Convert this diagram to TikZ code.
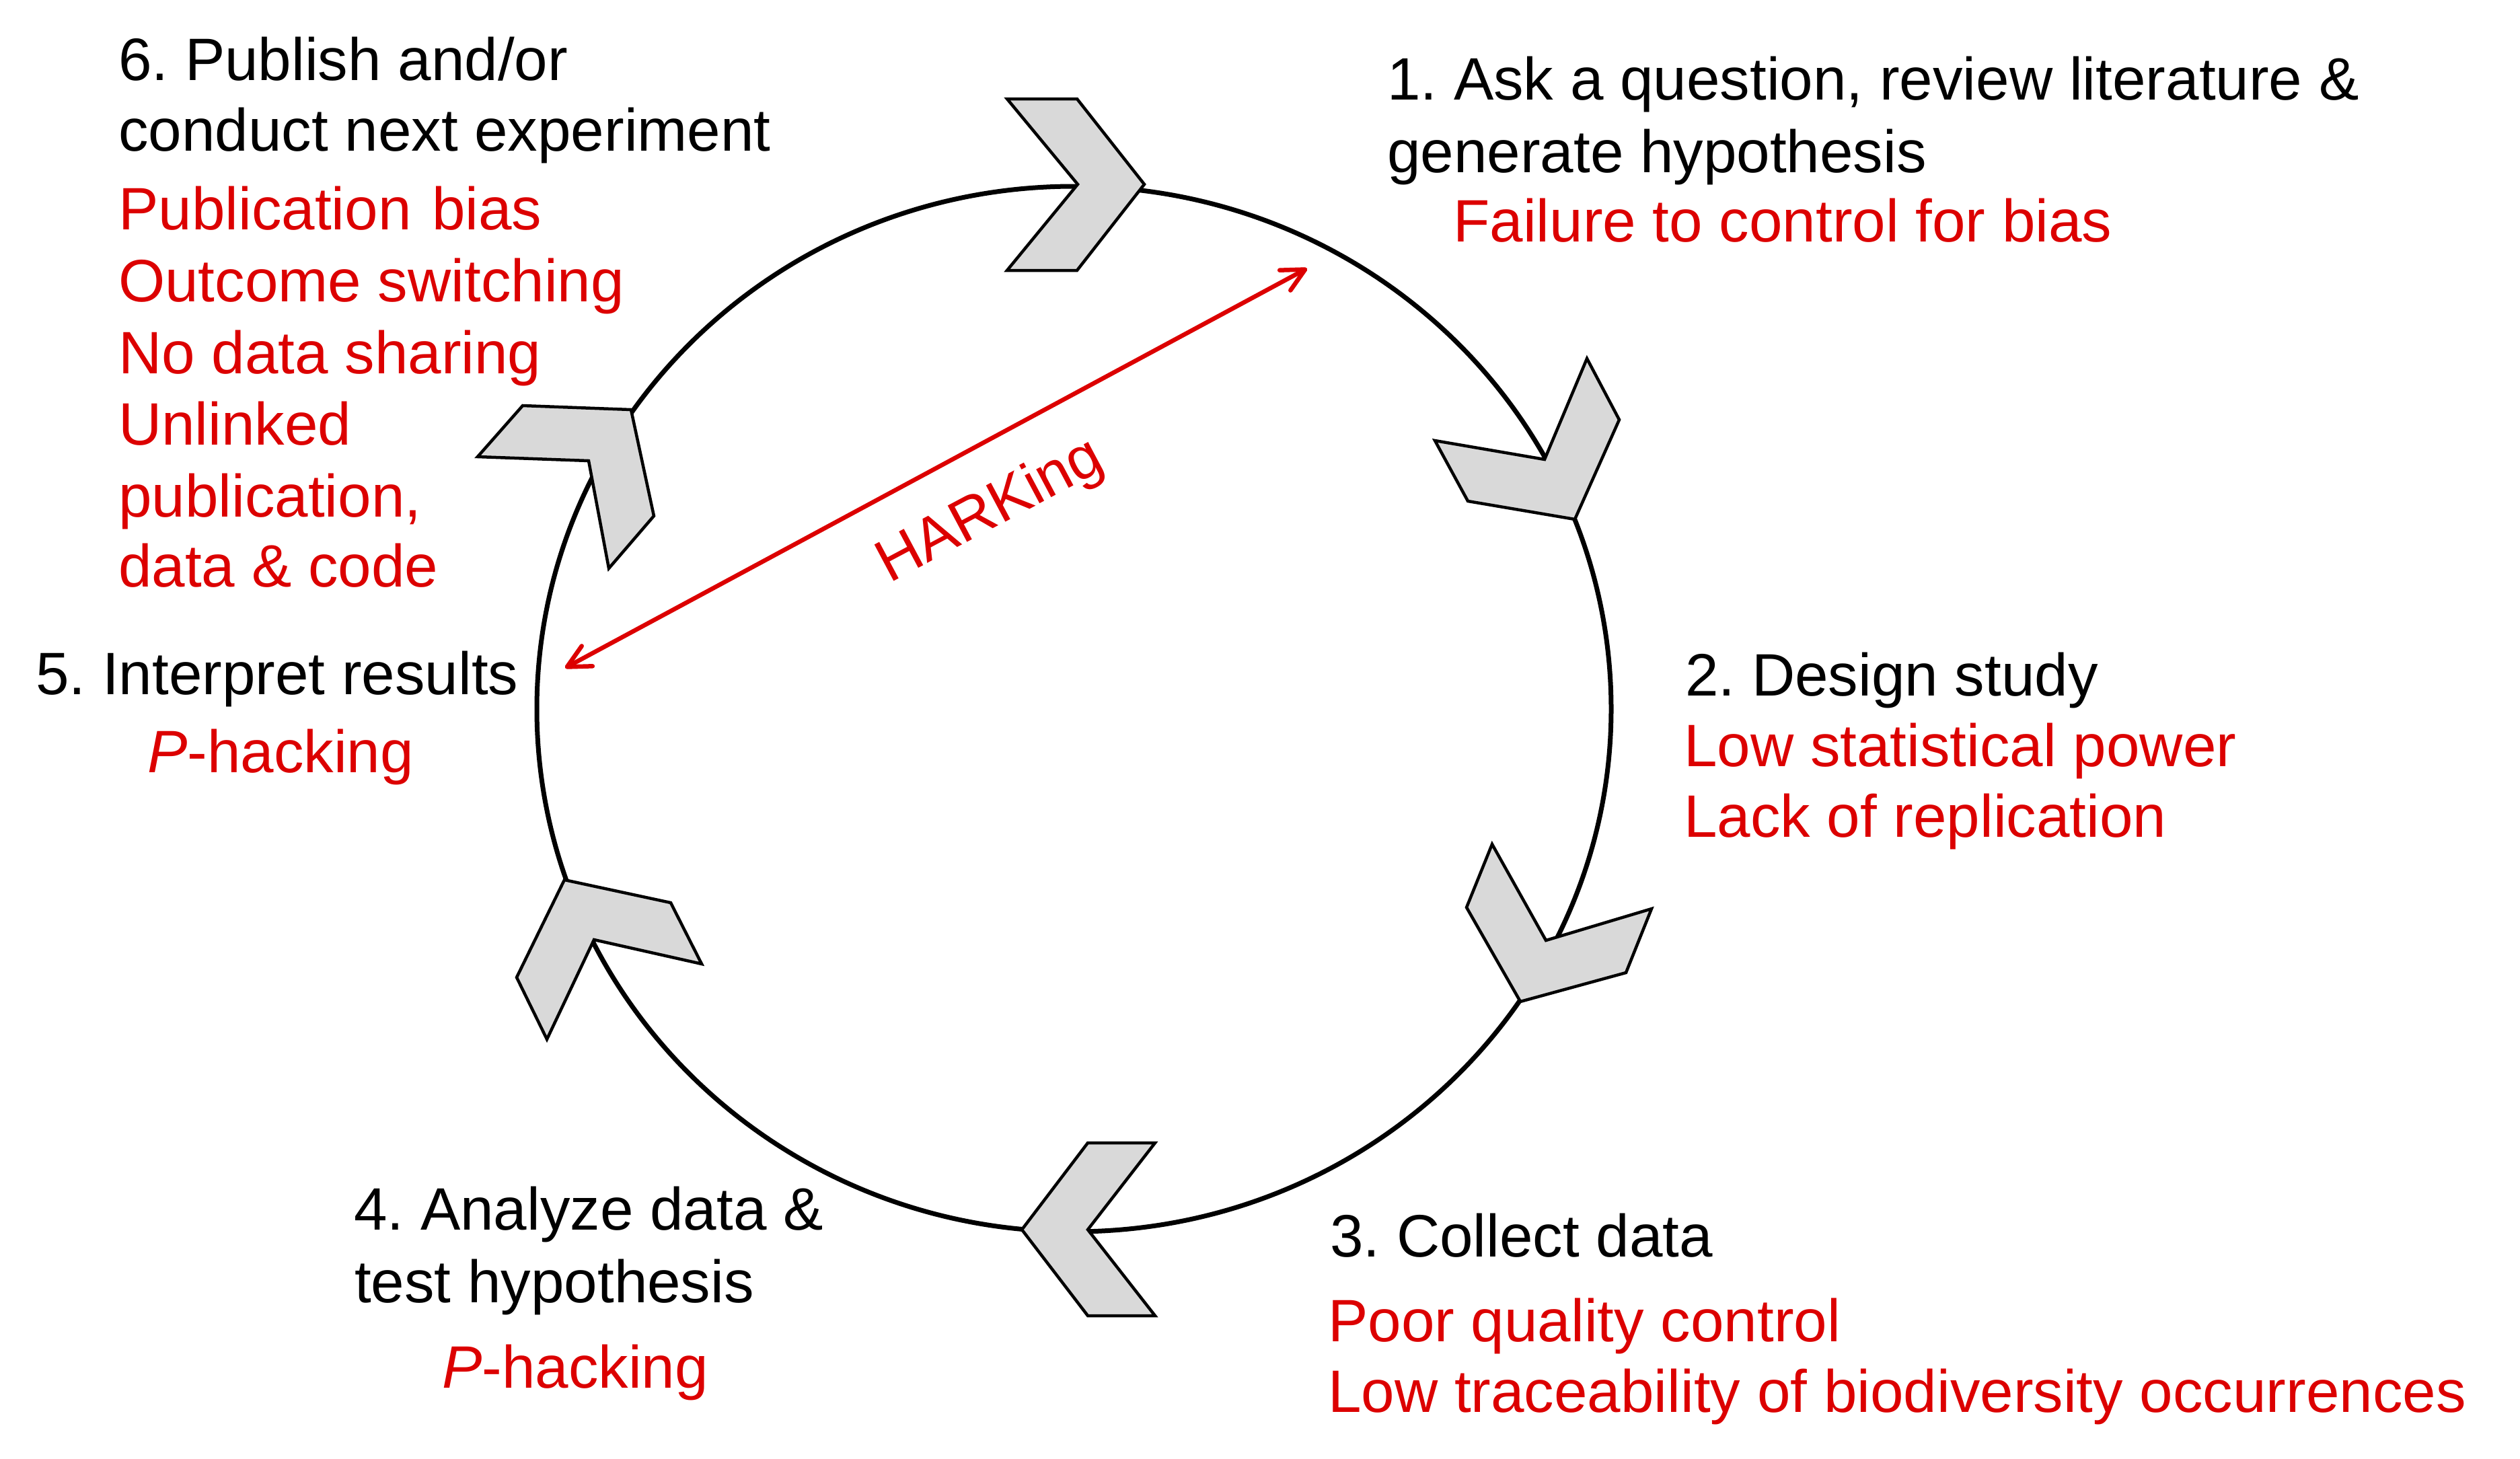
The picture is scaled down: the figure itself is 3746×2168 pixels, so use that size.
\documentclass[tikz,border=0pt]{standalone}
\usepackage{fontspec}
\setmainfont{Liberation Sans}
\usetikzlibrary{arrows.meta}
\definecolor{myred}{RGB}{220,0,0}
\definecolor{chevgray}{RGB}{217,217,217}
\begin{document}
\frenchspacing
\begin{tikzpicture}[x=1pt,y=-1pt,
  lbl/.style={anchor=base west, inner sep=0pt, font=\fontsize{89}{107}\selectfont\frenchspacing},
  redlbl/.style={lbl, text=myred},
  chev/.style={draw=black, line width=4.5pt, fill=chevgray, line join=miter},
  ring/.style={draw=black, line width=7pt},
  hark/.style={draw=myred, line width=6.5pt,
    {Straight Barb[length=34pt,width=34pt,round]}-{Straight Barb[length=34pt,width=34pt,round]}}
]
\useasboundingbox[fill=white] (0,0) rectangle (3746,2168);

% cycle ring
\draw[ring] (1596.5,1054) ellipse [x radius=798.5, y radius=777];

% chevrons
\draw[chev] (1497,147) -- (1601,147) -- (1701,274) -- (1601,402) -- (1497,402) -- (1602,274) -- cycle;
\draw[chev] (2359,533) -- (2407,624) -- (2341,772) -- (2182,745) -- (2133,655) -- (2296,683) -- cycle;
\draw[chev] (2218,1255) -- (2298,1398) -- (2455,1351) -- (2417,1446) -- (2260,1489) -- (2180,1349) -- cycle;
\draw[chev] (1617,1699) -- (1717,1699) -- (1617,1828) -- (1717,1956) -- (1617,1956) -- (1519,1828) -- cycle;
\draw[chev] (839,1308) -- (997,1342) -- (1043,1433) -- (883,1397) -- (813,1545) -- (768,1453) -- cycle;
\draw[chev] (777,603) -- (938,609) -- (972,767) -- (905,845) -- (875,685) -- (710,679) -- cycle;

% HARKing arrow
\coordinate (hA) at (1943,399);
\coordinate (hB) at (840,993);
\draw[hark] (hB) -- (hA);
\node[redlbl, rotate=28] (hark) at (1322,868) {HARKing};

% 1
\node[lbl] (s1a) at (2062,148) {1. Ask a question, review literature \&};
\node[lbl] (s1b) at (2062,256) {generate hypothesis};
\node[redlbl] (s1c) at (2160,359) {Failure to control for bias};
% 2
\node[lbl] (s2a) at (2505,1034) {2. Design study};
\node[redlbl] (s2b) at (2503,1139) {Low statistical power};
\node[redlbl] (s2c) at (2503,1244) {Lack of replication};
% 3
\node[lbl] (s3a) at (1977,1868) {3. Collect data};
\node[redlbl] (s3b) at (1974,1994) {Poor quality control};
\node[redlbl] (s3c) at (1974,2099) {Low traceability of biodiversity occurrences};
% 4
\node[lbl] (s4a) at (526,1828) {4. Analyze data \&};
\node[lbl] (s4b) at (527,1936) {test hypothesis};
\node[redlbl] (s4c) at (657,2063) {\textit{P}-hacking};
% 5
\node[lbl] (s5a) at (53,1032) {5. Interpret results};
\node[redlbl] (s5b) at (219,1148) {\textit{P}-hacking};
% 6
\node[lbl] (s6a) at (176,119) {6. Publish and/or};
\node[lbl] (s6b) at (176,224) {conduct next experiment};
\node[redlbl] (s6c) at (176,341) {Publication\hspace{6pt} bias};
\node[redlbl] (s6d) at (176,448) {Outcome switching};
\node[redlbl] (s6e) at (176,555) {No data sharing};
\node[redlbl] (s6f) at (176,661) {Unlinked};
\node[redlbl] (s6g) at (176,768) {publication,};
\node[redlbl] (s6h) at (176,872) {data \& code};
\end{tikzpicture}
\end{document}
